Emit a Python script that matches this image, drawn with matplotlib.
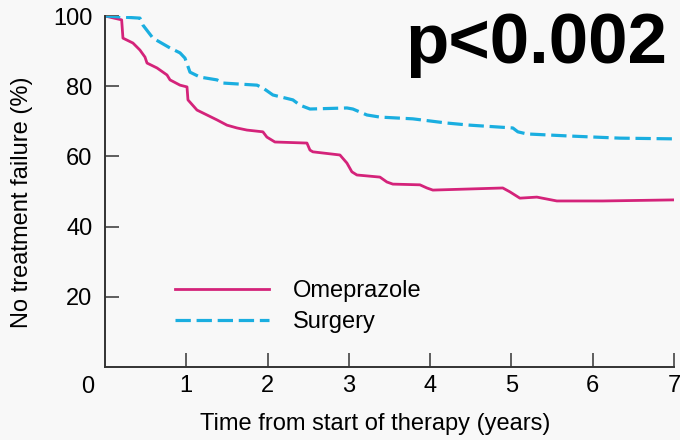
import matplotlib.pyplot as plt


# time-to-failure curves, read as (years, % without treatment failure)
omeprazole_t = [0, 0.205, 0.221, 0.344, 0.43, 0.492, 0.517, 0.64, 0.763, 0.80, 0.923, 1.009, 1.021,
	1.132, 1.255, 1.378, 1.501, 1.624, 1.747, 1.943, 1.992, 2.091, 2.485, 2.522, 2.558, 2.891,
	2.977, 3.038, 3.1, 3.383, 3.469, 3.542, 3.875, 3.961, 4.034, 4.895, 4.982, 5.105, 5.314,
	5.56, 6.125, 6.986]
omeprazole_pct = [100, 98.9, 93.7, 92.3, 90.3, 88.3, 86.6, 85.2, 83.2, 81.8, 80.3, 79.8, 76.1,
	73.2, 71.8, 70.4, 68.9, 68.1, 67.5, 67.0, 65.5, 64.1, 63.8, 61.8, 61.3, 60.4,
	58.1, 55.6, 54.7, 54.1, 52.7, 52.1, 51.9, 51.0, 50.4, 51.0, 49.9, 48.1, 48.4,
	47.3, 47.3, 47.6]

surgery_t = [0, 0.43, 0.467, 0.59, 0.80, 0.923, 0.984, 1.046, 1.169, 1.378, 1.451, 1.87, 1.943,
	2.066, 2.312, 2.399, 2.522, 2.977, 3.05, 3.223, 3.383, 3.788, 4.207, 4.49, 5.018, 5.08,
	5.191, 5.72, 6.335, 6.986]
surgery_pct = [100, 99.4, 97.4, 93.7, 90.9, 89.5, 88.0, 84.0, 82.6, 81.8, 80.9, 80.3, 79.5,
	77.5, 76.1, 74.6, 73.5, 73.8, 73.5, 71.8, 71.2, 70.7, 69.5, 68.9, 68.1, 67.0,
	66.4, 65.8, 65.2, 65.0]

x_ticks = [1, 2, 3, 4, 5, 6, 7]
y_ticks = [20, 40, 60, 80, 100]

bg = '#f8f8f8'
axis_col = '#333333'

plt.rcParams['font.family'] = ['Liberation Sans', 'DejaVu Sans']

fig = plt.figure(figsize = (6.8, 4.4), dpi = 100, facecolor = bg)
ax = fig.add_axes([0.1544, 0.166, 0.8366, 0.7976], facecolor = bg)

ax.plot(omeprazole_t, omeprazole_pct, color = '#d4237a', lw = 2.0, label = 'Omeprazole')
ax.plot(surgery_t, surgery_pct, color = '#1aaee0', lw = 2.3, dashes = (4.8, 1.8), label = 'Surgery')

ax.set_xlim(0, 7)
ax.set_ylim(0, 100)
ax.set_xticks(x_ticks)
ax.set_yticks(y_ticks)

for side in ['top', 'right']:
	ax.spines[side].set_visible(False)
for side in ['left', 'bottom']:
	ax.spines[side].set_color(axis_col)
	ax.spines[side].set_linewidth(1.4)

ax.tick_params(direction = 'in', length = 10, width = 1.1, color = axis_col, labelsize = 17)
ax.tick_params(axis = 'y', pad = 9)
ax.tick_params(axis = 'x', pad = 6)

# shared origin label sitting in the corner
ax.annotate('0', xy = (0, 0), xytext = (-11, -9), textcoords = 'offset pixels',
	ha = 'right', va = 'top', fontsize = 17)

ax.set_xlabel('Time from start of therapy (years)', fontsize = 17)
ax.set_ylabel('No treatment failure (%)', fontsize = 17)
ax.xaxis.set_label_coords(0.475, -0.13)
ax.yaxis.set_label_coords(-0.127, 0.47)

ax.legend(loc = 'upper left', bbox_to_anchor = (0.123, 0.247), frameon = False, fontsize = 17,
	handlelength = 4.0, handletextpad = 1.0, labelspacing = 0.37, borderpad = 0, borderaxespad = 0)

fig.text(667 / 680, 1 - 63 / 440, 'p<0.002', ha = 'right', va = 'baseline',
	fontsize = 51, fontweight = 'bold')

fig.savefig('out.png', dpi = 100, facecolor = bg)
